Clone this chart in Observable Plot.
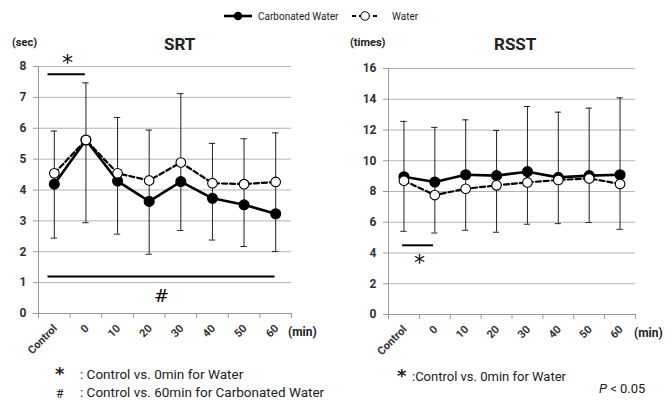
<!DOCTYPE html>
<html><head><meta charset="utf-8">
<script src="https://cdn.jsdelivr.net/npm/d3@7"></script>
<script src="https://cdn.jsdelivr.net/npm/@observablehq/plot@0.6"></script>
<style>
body{margin:0;background:#fff;}
#wrap{position:relative;width:672px;height:401px;overflow:hidden;font-family:"Liberation Sans Narrow","Roboto","Liberation Sans",sans-serif;color:#222;}
.abs{position:absolute;white-space:nowrap;line-height:1;}
</style></head><body><div id="wrap"></div>
<script>
const timepoints = ["Control","0","10","20","30","40","50","60"];
const srtCarbonated = [4.19,5.62,4.29,3.63,4.27,3.73,3.52,3.23];
const srtWater      = [4.54,5.62,4.54,4.31,4.89,4.22,4.19,4.26];
const srtErrHigh    = [5.91,7.47,6.35,5.94,7.12,5.51,5.66,5.85];
const srtErrLow     = [2.44,2.94,2.57,1.92,2.69,2.38,2.17,2.01];
const rsstCarbonated = [8.96,8.62,9.09,9.03,9.29,8.92,9.03,9.09];
const rsstWater      = [8.70,7.77,8.18,8.40,8.59,8.75,8.85,8.49];
const rsstErrHigh    = [12.56,12.17,12.66,11.97,13.53,13.16,13.42,14.09];
const rsstErrLow     = [5.41,5.30,5.48,5.35,5.87,5.91,5.98,5.54];
const srtTicks  = [0,1,2,3,4,5,6,7,8];
const rsstTicks = [0,2,4,6,8,10,12,14,16];
// significance annotations: category span, bar level, label
const srtSig  = [{from:"Control", to:"0", y:7.75, label:"*", labelY:8.1}, {from:"Control", to:"60", y:1.2, label:"#", labelY:0.55}];
const rsstSig = [{from:"Control", to:"0", y:4.5, label:"*", labelY:3.35}];

const FONT = '"Liberation Sans Narrow","Roboto","Liberation Sans",sans-serif';
const wrap = document.getElementById("wrap");

function chart(o){
  const n = timepoints.length;
  const rows = timepoints.map((t,i)=>({t, pos:i+0.5, carb:o.carb[i], water:o.water[i], hi:o.hi[i], lo:o.lo[i]}));
  const sig = o.sig.map(s=>({...s, x1:timepoints.indexOf(s.from)+o.sigStart, x2:timepoints.indexOf(s.to)+o.sigEnd,
    lx:(timepoints.indexOf(s.from)+o.sigStart + timepoints.indexOf(s.to)+o.sigEnd)/2}));
  const cap = 0.1;
  const p = Plot.plot({
    width:o.width, height:401,
    marginLeft:o.ml, marginRight:o.mr, marginTop:o.mt, marginBottom:o.mb,
    style:{fontFamily:FONT, fontSize:"11px", fontWeight:"bold", color:"#333", background:"transparent", overflow:"visible"},
    x:{domain:[0,n], axis:null},
    y:{domain:[0,o.ymax], axis:null},
    marks:[
      Plot.gridY(o.ticks, {stroke:"#b4b4b4", strokeOpacity:1, strokeWidth:1}),
      Plot.axisY(o.ticks, {tickSize:5, tickPadding:7, stroke:"#9a9a9a", fill:"#333", fontWeight:"bold", fontSize:12, label:null}),
      Plot.axisX(d3.range(n+1), {tickSize:5, tickFormat:()=>"", stroke:"#9a9a9a", label:null}),
      Plot.ruleX([0], {stroke:"#9a9a9a"}),
      Plot.ruleY([0], {stroke:"#9a9a9a"}),
      // error bars
      Plot.ruleX(rows, {x:"pos", y1:"lo", y2:"hi", stroke:"#222", strokeWidth:1}),
      Plot.ruleY(rows, {y:"hi", x1:d=>d.pos-cap, x2:d=>d.pos+cap, stroke:"#222", strokeWidth:1}),
      Plot.ruleY(rows, {y:"lo", x1:d=>d.pos-cap, x2:d=>d.pos+cap, stroke:"#222", strokeWidth:1}),
      // series
      Plot.line(rows, {x:"pos", y:"carb", stroke:"#000", strokeWidth:2.6}),
      Plot.dot(rows, {x:"pos", y:"carb", r:4.8, fill:"#000", stroke:"#000"}),
      Plot.line(rows, {x:"pos", y:"water", stroke:"#000", strokeWidth:2.2, strokeDasharray:"5,3"}),
      Plot.dot(rows, {x:"pos", y:"water", r:4.8, fill:"#fff", stroke:"#000", strokeWidth:1.1}),
      // significance
      Plot.ruleY(sig, {y:"y", x1:"x1", x2:"x2", stroke:"#000", strokeWidth:2}),
      Plot.text(sig, {x:d=>d.label==="#"? d.lx : timepoints.indexOf(d.from)+o.starX, y:"labelY", text:"label", fontSize:d=>d.label==="#"?18:22, fontWeight:"normal", fill:"#000", fontFamily:'"DejaVu Sans",sans-serif'}),
      // x tick labels
      Plot.text(rows, {x:"pos", y:0, text:"t", rotate:-45, textAnchor:"end", dx:1, dy:13, fontSize:11, fontWeight:"bold", fill:"#333"})
    ]
  });
  p.style.position = "absolute";
  p.style.top = "0px";
  p.style.left = o.left + "px";
  wrap.appendChild(p);
}

chart({left:0, width:336, ml:38, mr:45, mt:66, mb:88, ymax:8, ticks:srtTicks,
  carb:srtCarbonated, water:srtWater, hi:srtErrHigh, lo:srtErrLow, sig:srtSig, sigStart:0.3, sigEnd:0.48, starX:0.92});
chart({left:336, width:336, ml:52, mr:37, mt:68, mb:87, ymax:16, ticks:rsstTicks,
  carb:rsstCarbonated, water:rsstWater, hi:rsstErrHigh, lo:rsstErrLow, sig:rsstSig, sigStart:0.46, sigEnd:0.46, starX:1.0});

function addText(txt, left, top, css){
  const d = document.createElement("div");
  d.className = "abs"; d.textContent = txt;
  d.style.left = left + "px"; d.style.top = top + "px";
  Object.assign(d.style, css || {});
  wrap.appendChild(d);
  return d;
}
// legend
const leg = document.createElement("div");
leg.className = "abs"; leg.style.left = "222px"; leg.style.top = "8px";
leg.innerHTML = `<svg width="210" height="16" style="overflow:visible">
<line x1="2" y1="8" x2="30" y2="8" stroke="#000" stroke-width="2.6"/><circle cx="16" cy="8" r="4.3" fill="#000"/>
<text x="36" y="11.5" font-size="10" fill="#222" font-family='${FONT}'>Carbonated Water</text>
<line x1="130" y1="8" x2="156" y2="8" stroke="#000" stroke-width="2" stroke-dasharray="4,3"/><circle cx="143" cy="8" r="4.3" fill="#fff" stroke="#000" stroke-width="1"/>
<text x="170" y="11.5" font-size="10" fill="#222" font-family='${FONT}'>Water</text></svg>`;
wrap.appendChild(leg);

addText("(sec)", 12, 37, {fontSize:"11px", fontWeight:"bold"});
addText("SRT", 164, 36, {fontSize:"17px", fontWeight:"bold"});
addText("(times)", 350, 37, {fontSize:"11px", fontWeight:"bold"});
addText("RSST", 494, 36, {fontSize:"17px", fontWeight:"bold"});
addText("(min)", 288, 326, {fontSize:"12px", fontWeight:"bold"});
addText("(min)", 634, 327, {fontSize:"12px", fontWeight:"bold"});

addText("*", 55, 367, {fontSize:"18px", lineHeight:"0.8", fontFamily:'"DejaVu Sans",sans-serif', fontWeight:"bold"});
addText(":  Control vs. 0min  for Water", 80, 368, {fontSize:"13.5px"});
addText("#", 56, 388, {fontSize:"12px"});
addText(":  Control vs. 60min for Carbonated Water", 80, 386, {fontSize:"13.5px"});
addText("*", 397, 369, {fontSize:"18px", lineHeight:"0.8", fontFamily:'"DejaVu Sans",sans-serif', fontWeight:"bold"});
addText(":Control vs. 0min for Water", 412, 370, {fontSize:"13px"});
const pv = addText("", 599, 382, {fontSize:"13px"});
pv.innerHTML = "<i>P</i> &lt; 0.05";
</script></body></html>
